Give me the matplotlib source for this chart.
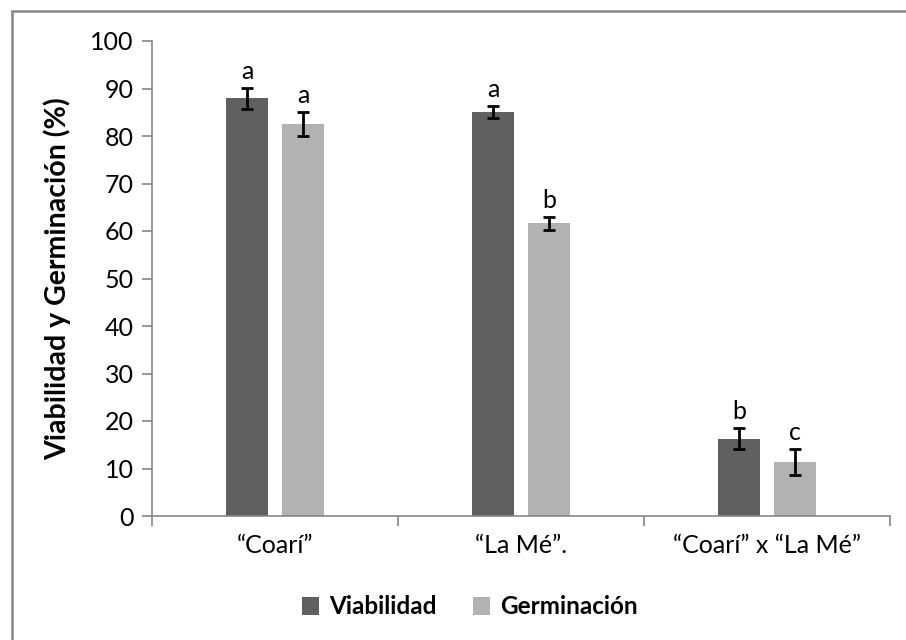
import numpy as np
import matplotlib
matplotlib.use("Agg")
import matplotlib.pyplot as plt
from matplotlib.patches import Rectangle

plt.rcParams['font.family'] = ['Lato', 'DejaVu Sans']

# data
categories = ["\u201cCoar\u00ed\u201d", "\u201cLa M\u00e9\u201d.", "\u201cCoar\u00ed\u201d x \u201cLa M\u00e9\u201d"]
viabilidad = [87.9, 85.0, 16.3]
viabilidad_err = [2.2, 1.3, 2.2]
germinacion = [82.6, 61.6, 11.4]
germinacion_err = [2.5, 1.4, 2.8]
letras_viab = ["a", "a", "b"]
letras_germ = ["a", "b", "c"]
yticks = list(range(0, 101, 10))

dark = "#606060"
light = "#b2b2b2"
axis_gray = "#868686"
fs = 18

fig = plt.figure(figsize=(9.06, 6.4), dpi=100)
ax = fig.add_axes([152/906, 1-516/640, (890-152)/906, (516-41)/640])

x = np.arange(len(categories))
w = 0.171
off = 0.114

err_kw = dict(ecolor="black", elinewidth=2, capsize=4.5, capthick=2)
ax.bar(x - off, viabilidad, w, color=dark, yerr=viabilidad_err,
       error_kw=err_kw, label="Viabilidad")
ax.bar(x + off, germinacion, w, color=light, yerr=germinacion_err,
       error_kw=err_kw, label="Germinaci\u00f3n")

# significance letters above the error bars
for i in range(len(categories)):
    ax.text(x[i] - off, viabilidad[i] + viabilidad_err[i] + 1.0, letras_viab[i],
            ha="center", va="bottom", fontsize=fs)
    ax.text(x[i] + off, germinacion[i] + germinacion_err[i] + 1.0, letras_germ[i],
            ha="center", va="bottom", fontsize=fs)

ax.set_xlim(-0.5, 2.5)
ax.set_ylim(0, 100)
ax.set_yticks(yticks)
ax.tick_params(axis="y", labelsize=fs, length=7, width=1.2, color=axis_gray, pad=6)
ax.set_xticks(x)
ax.set_xticklabels(categories)
ax.tick_params(axis="x", which="major", length=0, labelsize=fs, pad=13)
ax.set_xticks([-0.5, 0.5, 1.5, 2.5], minor=True)
ax.tick_params(axis="x", which="minor", length=7, width=1.2, color=axis_gray)

for s in ["top", "right"]:
    ax.spines[s].set_visible(False)
for s in ["left", "bottom"]:
    ax.spines[s].set_color(axis_gray)
    ax.spines[s].set_linewidth(1.2)

ax.set_ylabel("Viabilidad y Germinaci\u00f3n (%)", fontsize=20.5, fontweight="bold", labelpad=14)

leg = fig.legend(loc="center", bbox_to_anchor=(470/906, 1-607/640), ncol=2,
                 frameon=False, prop={"weight": "bold", "size": 17.5},
                 handlelength=0.7, handleheight=0.7, handletextpad=0.4,
                 columnspacing=1.5)

# chart area border
fig.patches.append(Rectangle((12/906, -0.05), 1.1, 1.05 - 11/640,
                             transform=fig.transFigure, fill=False,
                             edgecolor=axis_gray, linewidth=1.8))

fig.savefig("out.png", dpi=100)
